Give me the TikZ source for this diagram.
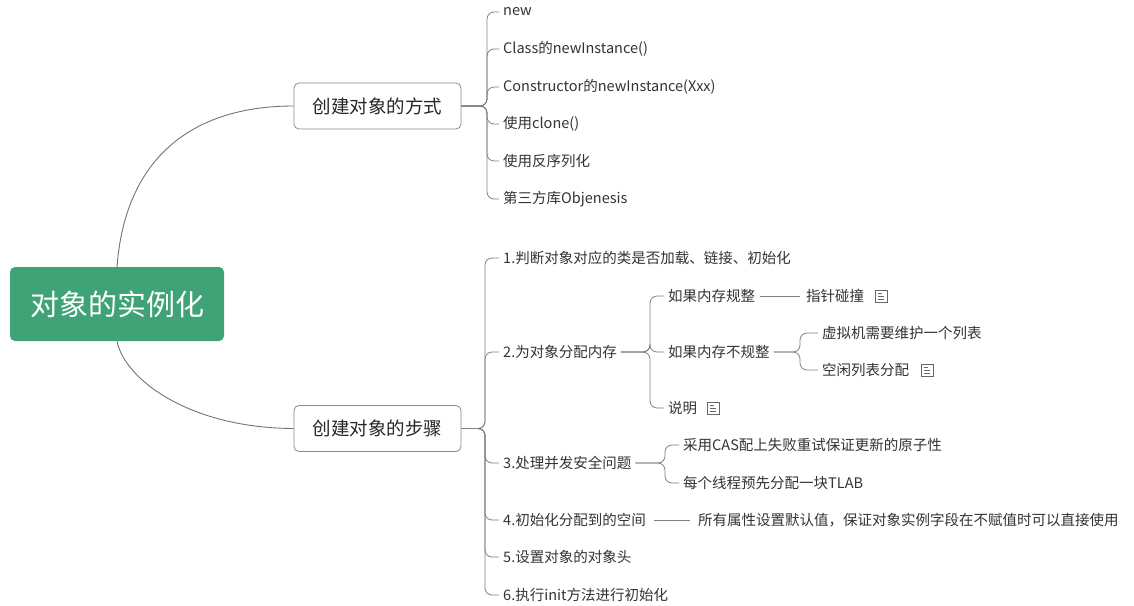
\documentclass[tikz,border=0pt]{standalone}
\usepackage{fontspec}
\setmainfont{Noto Sans CJK SC}
\begin{document}
\begin{tikzpicture}[x=1pt,y=-1pt,
  leaf/.style={anchor=west,inner sep=0pt,font=\fontsize{14.5}{16}\selectfont,text=black!80},
  box/.style={draw=black!45,rounded corners=5pt,fill=white,minimum width=167pt,minimum height=46pt,font=\fontsize{18.5}{20}\selectfont,text=black!85,line width=0.8pt},
  ln/.style={draw=black!50,line width=0.8pt,rounded corners=7pt},
  noteicon/.pic={\draw[black!60,line width=0.6pt] (-6,-6) rectangle (6,6); \draw[black!60,line width=0.6pt] (-3,-3)--(1,-3) (-3,0)--(3,0) (-3,3)--(3,3);}]
\useasboundingbox (0,0) rectangle (1134,605);
\node[fill=white] at (567,302) {};
\node[fill={rgb,255:red,64;green,163;blue,120},rounded corners=5pt,minimum width=214pt,minimum height=74pt,text=white,font=\fontsize{29}{31}\selectfont] (root) at (117,304) {对象的实例化};
\node[box] (b1) at (377.5,106) {创建对象的方式};
\node[box] (b2) at (377.5,428.5) {创建对象的步骤};
\draw[draw=black!55,line width=0.9pt] (root.north) .. controls (125,160) and (190,106) .. (b1.west);
\draw[draw=black!55,line width=0.9pt] (root.south) .. controls (125,380) and (190,428) .. (b2.west);
% box1 leaves
\node[leaf] (a1) at (503,12) {new};
\node[leaf] (a2) at (503,49) {Class的newInstance()};
\node[leaf] (a3) at (503,87) {Constructor的newInstance(Xxx)};
\node[leaf] (a4) at (503,124) {使用clone()};
\node[leaf] (a5) at (503,161) {使用反序列化};
\node[leaf] (a6) at (503,199) {第三方库Objenesis};
\foreach \c in {a1,a2,a3,a4,a5,a6}{\draw[ln] (b1.east) -- (487,106) |- ([xshift=-4pt]\c.west);}
% box2 leaves
\node[leaf] (s1) at (503,258) {1.判断对象对应的类是否加载、链接、初始化};
\node[leaf] (s2) at (503,352) {2.为对象分配内存};
\node[leaf] (s3) at (503,463) {3.处理并发安全问题};
\node[leaf] (s4) at (503,520) {4.初始化分配到的空间};
\node[leaf] (s5) at (503,557) {5.设置对象的对象头};
\node[leaf] (s6) at (503,595) {6.执行init方法进行初始化};
\foreach \c in {s1,s2,s3,s4,s5,s6}{\draw[ln] (b2.east) -- (485,428.5) |- ([xshift=-4pt]\c.west);}
% step 2
\node[leaf] (m1) at (668,296) {如果内存规整};
\node[leaf] (m2) at (668,352) {如果内存不规整};
\node[leaf] (m3) at (668,408) {说明};
\pic at (713,408) {noteicon};
\foreach \c in {m1,m2,m3}{\draw[ln] ([xshift=4pt]s2.east) -- (650,352) |- ([xshift=-4pt]\c.west);}
\node[leaf] (p1) at (806,296) {指针碰撞};
\pic at (881,296) {noteicon};
\draw[ln] ([xshift=5pt]m1.east) -- ([xshift=-6pt]p1.west);
\node[leaf] (q1) at (822,333) {虚拟机需要维护一个列表};
\node[leaf] (q2) at (822,370) {空闲列表分配};
\pic at (927,370) {noteicon};
\foreach \c in {q1,q2}{\draw[ln] ([xshift=4pt]m2.east) -- (800,352) |- ([xshift=-4pt]\c.west);}
% step 3
\node[leaf] (r1) at (683,445) {采用CAS配上失败重试保证更新的原子性};
\node[leaf] (r2) at (683,483) {每个线程预先分配一块TLAB};
\foreach \c in {r1,r2}{\draw[ln] ([xshift=4pt]s3.east) -- (665,463) |- ([xshift=-4pt]\c.west);}
% step 4
\node[leaf] (t1) at (698,520) {所有属性设置默认值，保证对象实例字段在不赋值时可以直接使用};
\draw[ln] ([xshift=8pt]s4.east) -- ([xshift=-8pt]t1.west);
\end{tikzpicture}
\end{document}
